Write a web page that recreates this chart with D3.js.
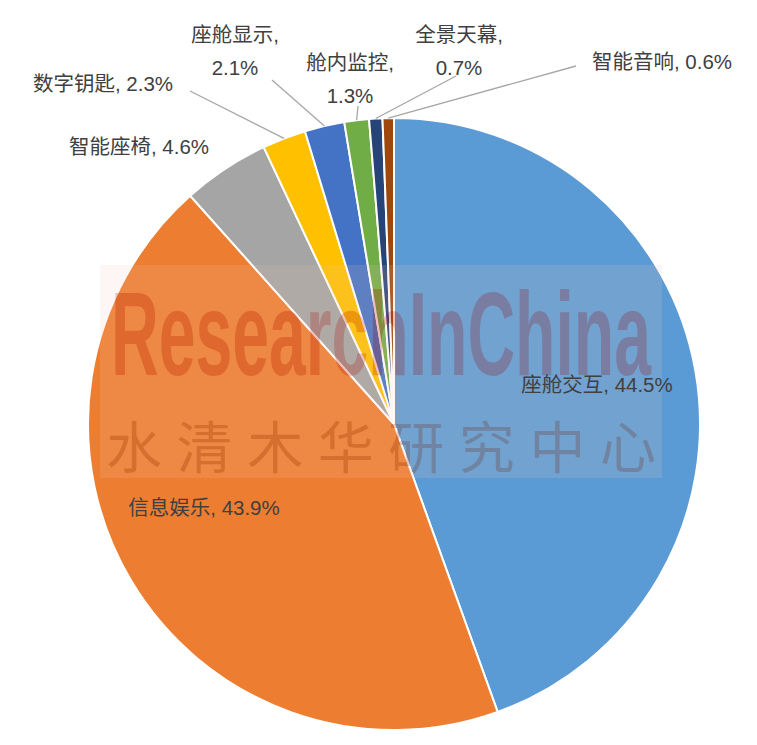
<!DOCTYPE html>
<html><head><meta charset="utf-8">
<script src="https://cdn.jsdelivr.net/npm/d3@7"></script>
<style>body{margin:0;background:#fff}text{font-family:"Liberation Sans","Noto Sans CJK SC",sans-serif}</style>
</head><body><svg id="c" width="757" height="745"></svg>
<script>
const categories=["座舱交互","信息娱乐","智能座椅","数字钥匙","座舱显示","舱内监控","全景天幕","智能音响"];
const values=[44.5,43.9,4.6,2.3,2.1,1.3,0.7,0.6];
const colors=["#5B9BD5","#ED7D31","#A5A5A5","#FFC000","#4472C4","#70AD47","#264478","#9E480E"];
const labelLines=[["座舱交互, 44.5%"],["信息娱乐, 43.9%"],["智能座椅, 4.6%"],["数字钥匙, 2.3%"],["座舱显示,","2.1%"],["舱内监控,","1.3%"],["全景天幕,","0.7%"],["智能音响, 0.6%"]];
const labelPos=[[597,392],[204,515],[139,154],[103,91],[235,42],[350,70],[459,42],[662,69]];
const leaderStart=[null,null,null,[190,91],[272,80],[358,106],[456,76],[576,66]];
const svg=d3.select("#c");
const cx=394,cy=424,r=306;
const g=svg.append("g").attr("transform",`translate(${cx},${cy})`);
const pie=d3.pie().sort(null).value(d=>d)(values);
const arc=d3.arc().innerRadius(0).outerRadius(r);
g.selectAll("path").data(pie).join("path").attr("d",arc).attr("fill",(d,i)=>colors[i]).attr("stroke","#fff").attr("stroke-width",2);
const wm=svg.append("g").attr("opacity",0.3);
wm.append("rect").attr("x",100).attr("y",265).attr("width",562).attr("height",213).attr("fill","#f4c9b8").attr("opacity",0.5);
wm.append("text").attr("x",381).attr("y",375).attr("text-anchor","middle").attr("font-size",118).attr("font-weight","bold").attr("fill","#c0392b").attr("textLength",540).attr("lengthAdjust","spacingAndGlyphs").text("ResearchInChina");
wm.append("text").attr("x",381).attr("y",468).attr("text-anchor","middle").attr("font-size",56).attr("fill","#a05030").attr("textLength",550).attr("lengthAdjust","spacing").text("水清木华研究中心");
pie.forEach((d,i)=>{
  if(!leaderStart[i])return;
  const a=(d.startAngle+d.endAngle)/2;
  const ex=cx+Math.sin(a)*r, ey=cy-Math.cos(a)*r;
  svg.append("line").attr("x1",leaderStart[i][0]).attr("y1",leaderStart[i][1]).attr("x2",ex).attr("y2",ey).attr("stroke","#a6a6a6").attr("stroke-width",1.3);
});
labelLines.forEach((lines,i)=>{
  const t=svg.append("text").attr("x",labelPos[i][0]).attr("y",labelPos[i][1]).attr("text-anchor","middle").attr("font-size",20.5).attr("fill","#404040");
  lines.forEach((l,j)=>t.append("tspan").attr("x",labelPos[i][0]).attr("dy",j?33:0).text(l));
});
</script></body></html>
